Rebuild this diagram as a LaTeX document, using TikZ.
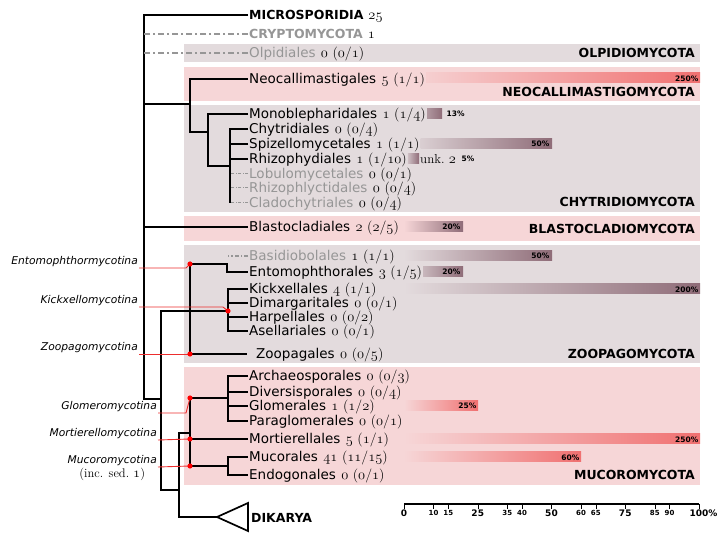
\documentclass[tikz,border=0pt]{standalone}
\usepackage{fontspec}
\setsansfont{DejaVu Sans}
\usetikzlibrary{positioning,calc}

\definecolor{bandgrey}{RGB}{227,219,221}
\definecolor{bandpink}{RGB}{246,214,215}
\definecolor{barmauve}{RGB}{143,108,120}
\definecolor{barred}{RGB}{240,112,112}
\definecolor{fadegray}{RGB}{150,150,150}
\definecolor{linkred}{RGB}{236,45,45}

\newcommand\on[1]{{\fontsize{15}{15}\selectfont$\mathnormal{#1}$}}
\newcommand\cnt[3]{\hspace{.4em}{\normalfont\color{black}\fontsize{14}{15}\selectfont\on{#1} (\on{#2}/\on{#3})}}
\newcommand\pbar[5]{%
  \begin{scope}
    \clip (#1.east |- 0,#2) ++(0,-5) rectangle (#3,#2+5);
    \shade[left color=#5,right color=#4] (404,#2-5) rectangle (#3,#2+5);
  \end{scope}}

\begin{document}
\begin{tikzpicture}[x=1pt,y=-1pt,
  leaf/.style={anchor=west,inner xsep=1pt,inner ysep=0pt,text height=9pt,text depth=0pt,
    font=\sffamily\fontsize{13.5}{14}\selectfont},
  gleaf/.style={leaf,text=fadegray},
  bleaf/.style={leaf,font=\sffamily\bfseries\fontsize{12.5}{13}\selectfont},
  phylum/.style={anchor=east,inner sep=1pt,font=\sffamily\bfseries\fontsize{12.5}{13}\selectfont},
  subph/.style={anchor=south east,inner sep=1pt,font=\sffamily\itshape\fontsize{10.7}{12}\selectfont},
  pct/.style={anchor=east,inner sep=.5pt,font=\sffamily\bfseries\fontsize{7.5}{8}\selectfont},
  tickl/.style={anchor=north,inner sep=1pt,font=\sffamily\bfseries\fontsize{7}{8}\selectfont},
  tickL/.style={tickl,font=\sffamily\bfseries\fontsize{9}{10}\selectfont},
  branch/.style={line width=1.7pt},
  lost/.style={line width=1.4pt,fadegray,dash pattern=on 6pt off 3pt on 2pt off 3pt},
  fine/.style={line width=1pt,fadegray,dash pattern=on 3pt off 1.5pt on 1pt off 1.5pt},
  link/.style={linkred,line width=.9pt}]
\useasboundingbox (0,0) rectangle (724,534);

\fill[bandgrey] (184,44) rectangle (700,62);
\fill[bandpink] (184,67) rectangle (700,101);
\fill[bandgrey] (184,105) rectangle (700,212);
\fill[bandpink] (184,216) rectangle (700,241);
\fill[bandgrey] (184,245) rectangle (700,363);
\fill[bandpink] (184,367) rectangle (700,485);

\node[phylum] (olpidio) at (696,53) {OLPIDIOMYCOTA};
\node[phylum] (neocallim) at (696,92) {NEOCALLIMASTIGOMYCOTA};
\node[phylum] (chytridio) at (696,202) {CHYTRIDIOMYCOTA};
\node[phylum] (blastoc) at (696,229) {BLASTOCLADIOMYCOTA};
\node[phylum] (zoopago) at (696,354) {ZOOPAGOMYCOTA};
\node[phylum] (mucoro) at (696,475) {MUCOROMYCOTA};

\node[bleaf] (micro) at (248,15) {MICROSPORIDIA\hspace{.4em}{\normalfont\on{25}}};
\node[bleaf,text=fadegray] (crypto) at (248,34) {CRYPTOMYCOTA\hspace{.4em}{\normalfont\color{black}\on{1}}};
\node[gleaf] (olpid) at (248,53) {Olpidiales\cnt{0}{0}{1}};
\node[leaf] (neocal) at (248,79) {Neocallimastigales\cnt{5}{1}{1}};
\node[leaf] (monobl) at (248,114) {Monoblepharidales\cnt{1}{1}{4}};
\node[leaf] (chytr) at (248,129) {Chytridiales\cnt{0}{0}{4}};
\node[leaf] (spizel) at (248,144) {Spizellomycetales\cnt{1}{1}{1}};
\node[leaf] (rhizoph) at (248,159) {Rhizophydiales\cnt{1}{1}{10}};
\node[gleaf] (lobulo) at (248,174) {Lobulomycetales\cnt{0}{0}{1}};
\node[gleaf] (rhizphl) at (248,188) {Rhizophlyctidales\cnt{0}{0}{4}};
\node[gleaf] (clado) at (248,203) {Cladochytriales\cnt{0}{0}{4}};
\node[leaf] (blasto) at (248,227) {Blastocladiales\cnt{2}{2}{5}};
\node[gleaf] (basid) at (248,256) {Basidiobolales\cnt{1}{1}{1}};
\node[leaf] (entomo) at (248,272) {Entomophthorales\cnt{3}{1}{5}};
\node[leaf] (kickx) at (248,289) {Kickxellales\cnt{4}{1}{1}};
\node[leaf] (dimarg) at (248,303) {Dimargaritales\cnt{0}{0}{1}};
\node[leaf] (harpel) at (248,317) {Harpellales\cnt{0}{0}{2}};
\node[leaf] (asell) at (248,331) {Asellariales\cnt{0}{0}{1}};
\node[leaf] (zoopag) at (255,354) {Zoopagales\cnt{0}{0}{5}};
\node[leaf] (archae) at (248,376) {Archaeosporales\cnt{0}{0}{3}};
\node[leaf] (divers) at (248,392) {Diversisporales\cnt{0}{0}{4}};
\node[leaf] (glomer) at (248,406) {Glomerales\cnt{1}{1}{2}};
\node[leaf] (paragl) at (248,421) {Paraglomerales\cnt{0}{0}{1}};
\node[leaf] (mortie) at (248,439) {Mortierellales\cnt{5}{1}{1}};
\node[leaf] (mucor) at (248,457) {Mucorales\cnt{41}{11}{15}};
\node[leaf] (endog) at (248,475) {Endogonales\cnt{0}{0}{1}};
\node[bleaf] (dikarya) at (250,518) {DIKARYA};
\node[leaf,font=\rmfamily\fontsize{13}{14}\selectfont] (unk) at (419,159) {unk.~\on{2}};

\pbar{neocal}{78}{700}{barred}{bandpink}
\pbar{monobl}{114}{442}{barmauve}{bandgrey}
\pbar{spizel}{144}{552}{barmauve}{bandgrey}
\pbar{rhizoph}{159}{419}{barmauve}{bandgrey}
\pbar{blasto}{227}{463}{barmauve}{bandpink}
\pbar{basid}{256}{552}{barmauve}{bandgrey}
\pbar{entomo}{272}{463}{barmauve}{bandgrey}
\pbar{kickx}{289}{700}{barmauve}{bandgrey}
\pbar{glomer}{406}{478}{barred}{bandpink}
\pbar{mortie}{439}{700}{barred}{bandpink}
\pbar{mucor}{457}{581}{barred}{bandpink}

\node[pct] (p-neocal) at (699,79) {250\%};
\node[pct,anchor=west] (p-monobl) at (446,114) {13\%};
\node[pct] (p-spizel) at (550,144) {50\%};
\node[pct,anchor=west] (p-rhizoph) at (461,159) {5\%};
\node[pct] (p-blasto) at (461,227) {20\%};
\node[pct] (p-basid) at (550,256) {50\%};
\node[pct] (p-entomo) at (461,272) {20\%};
\node[pct] (p-kickx) at (699,290) {200\%};
\node[pct] (p-glomer) at (477,406) {25\%};
\node[pct] (p-mortie) at (699,440) {250\%};
\node[pct] (p-mucor) at (580,458) {60\%};

\coordinate (mainb) at (144,399);
\coordinate (nc) at (190,104);
\coordinate (nc2) at (190,132);
\coordinate (ch) at (208,132);
\coordinate (chb) at (208,166);
\coordinate (cb) at (230,203);
\coordinate (kt) at (161,312);
\coordinate (kb) at (161,490);
\coordinate (dk) at (179,517);
\coordinate (mt) at (179,433);
\coordinate (eb) at (227,272);
\coordinate (bs) at (228,256);
\coordinate (zl) at (247,354);
\coordinate (gb) at (228,421);
\coordinate (mb) at (228,466);
\coordinate (tip) at (217,517);
\coordinate (entdot) at (190,264);
\coordinate (kxdot) at (228,311);
\coordinate (zoodot) at (190,354);
\coordinate (glodot) at (190,398);
\coordinate (mortdot) at (190,439);
\coordinate (mucdot) at (190,466);

\draw[branch] (micro.west) -| (mainb) -- (mainb -| kt);
\draw[lost] (crypto.west) -- (crypto.west -| mainb);
\draw[lost] (olpid.west) -- (olpid.west -| mainb);
\draw[branch] (nc -| mainb) -- (nc);
\draw[branch] (neocal.west) -| (nc2) -- (ch);
\draw[branch] (monobl.west) -| (chb) -- (chb -| cb);
\draw[branch] (chytr.west) -| (cb);
\draw[branch] (spizel.west) -- (spizel.west -| cb);
\draw[branch] (rhizoph.west) -- (rhizoph.west -| cb);
\foreach \n in {lobulo,rhizphl,clado}
  \draw[fine] (\n.west) -- (\n.west -| cb);
\draw[branch] (blasto.west) -- (blasto.west -| mainb);

\draw[line width=1.2pt,fadegray,dash pattern=on 4pt off 2pt on 1.5pt off 2pt] (basid.west) -- (bs);
\draw[branch] (entdot) -| (eb) -- (entomo.west);
\draw[branch] (entdot) |- (zl);
\draw[branch] (kickx.west) -| (asell.west -| kxdot) -- (asell.west);
\draw[branch] (dimarg.west) -- (dimarg.west -| kxdot);
\draw[branch] (harpel.west) -- (harpel.west -| kxdot);
\draw[branch] (kxdot) -| (kb) -- (kb -| dk);

\draw[branch] (glodot |- mt) -| (dk) -- (tip);
\draw[branch] (tip) -- ++(31,-14) -- ++(0,28) -- cycle;
\draw[branch] (glodot) -- (mucdot);
\draw[branch] (glodot) -- (glodot -| gb);
\draw[branch] (archae.west) -| (gb) -- (paragl.west);
\draw[branch] (divers.west) -- (divers.west -| gb);
\draw[branch] (glomer.west) -- (glomer.west -| gb);
\draw[branch] (mortdot) -- (mortie.west);
\draw[branch] (mucdot) -- (mb);
\draw[branch] (mucor.west) -| (mb) |- (endog.west);

\node[subph] (entl) at (139,268) {Entomophthormycotina};
\node[subph] (kickl) at (139,307) {Kickxellomycotina};
\node[subph] (zool) at (139,354) {Zoopagomycotina};
\node[subph] (glol) at (158,413) {Glomeromycotina};
\node[subph] (mortl) at (158,440) {Mortierellomycotina};
\node[subph] (mucl) at (158,467) {Mucoromycotina};
\node[font=\rmfamily\fontsize{12.5}{13}\selectfont,inner sep=1pt,below=0pt of mucl] (incsed) {(inc. sed.~\on{1})};

\draw[link] (entl.south east) -- ($(entdot)+(-4,4)$) -- (entdot);
\draw[link] (kickl.south east) -- ($(kxdot)+(-5,-4)$) -- (kxdot);
\draw[link] (zool.south east) -- (zoodot);
\draw[link] (glol.south east) -- ($(glodot)+(-4,15)$) -- (glodot);
\draw[link] (mortl.south east) -- (mortdot);
\draw[link] (mucl.south east) -- (mucdot);
\foreach \d in {entdot,kxdot,zoodot,glodot,mortdot,mucdot}
  \fill[red] (\d) circle (2.6pt);

\coordinate (s0) at (404,504);
\coordinate (s100) at (699,504);
\draw[line width=2.2pt] (s0) -- (s100);
\foreach \v in {10,15,35,40,60,65,85,90}
  \draw[thin] ($(s0)!\v/100!(s100)$) -- ++(0,5) node[tickl] (t\v) {\v};
\foreach \v in {0,25,50,75}
  \draw[thin] ($(s0)!\v/100!(s100)$) -- ++(0,5) node[tickL] (t\v) {\v};
\draw[thin] (s100) -- ++(0,5) node[tickL] (t100) {100\rlap{\%}};
\end{tikzpicture}
\end{document}
